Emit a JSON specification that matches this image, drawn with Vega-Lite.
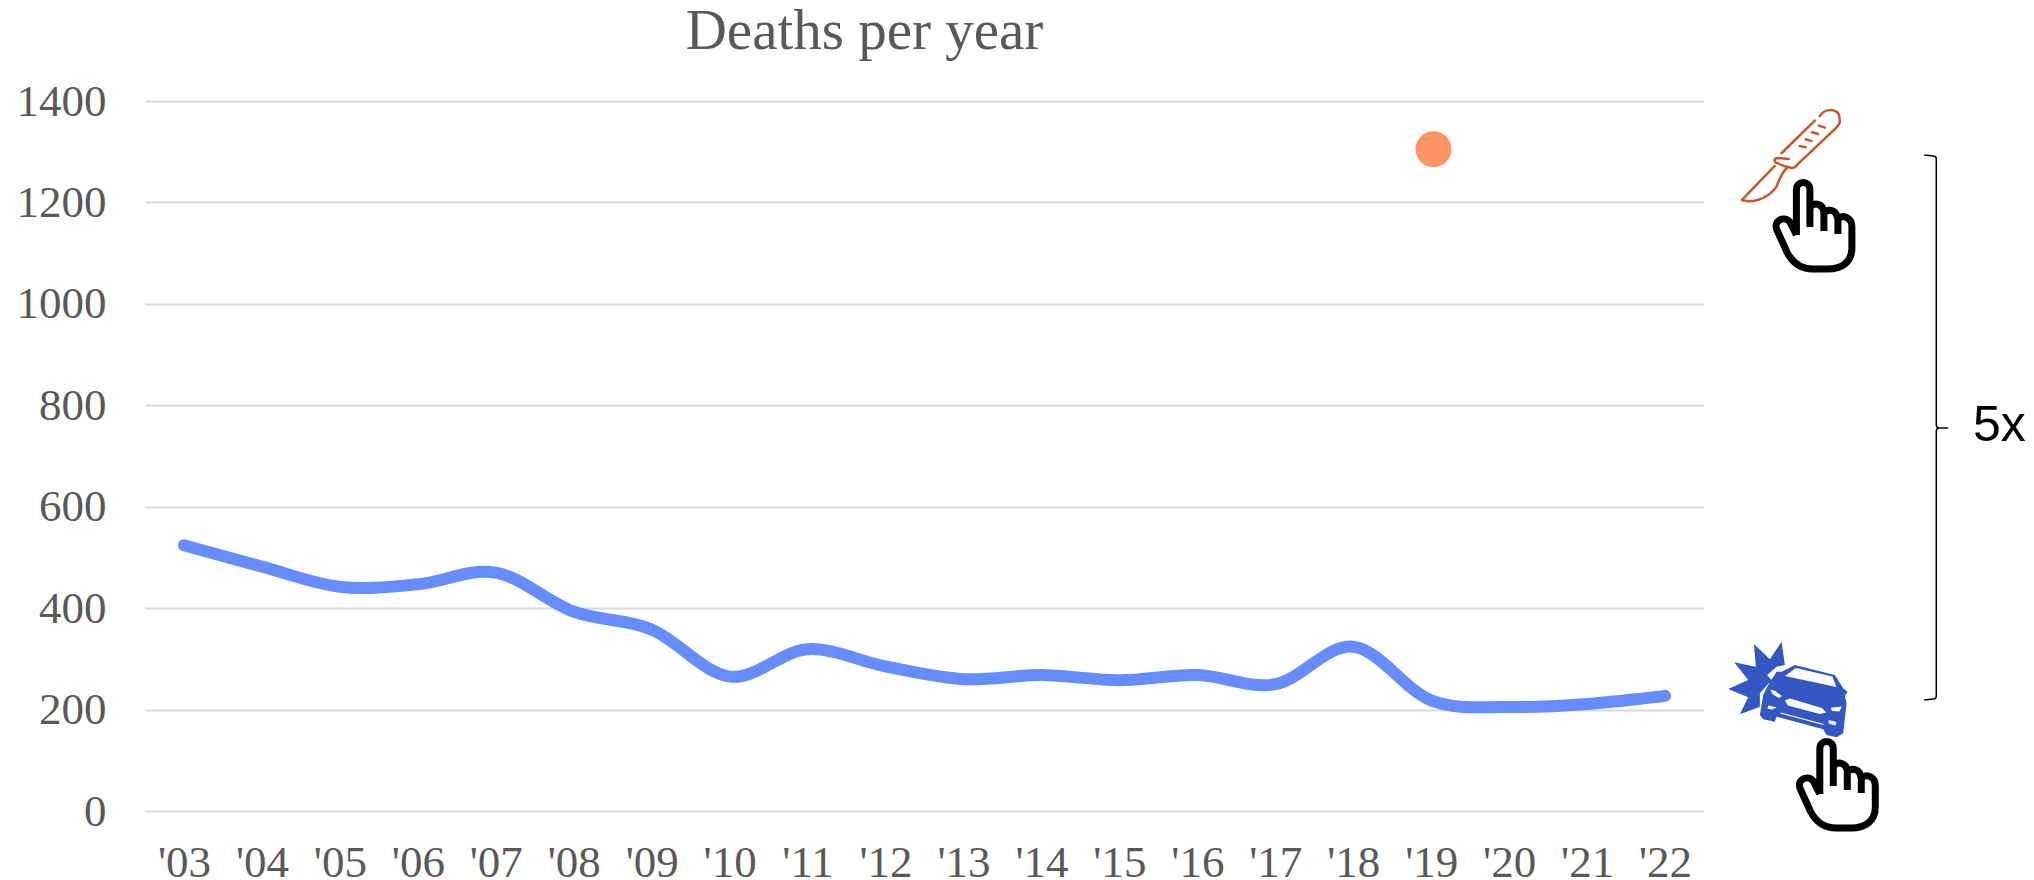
{
"$schema":"https://vega.github.io/schema/vega-lite/v6.json",
"width":1559,"height":710,
"autosize":{"type":"none"},
"padding":{"left":145,"top":101,"right":330,"bottom":69},
"background":"white",
"title":{"text":"Deaths per year","font":"Liberation Serif","fontSize":57,"fontWeight":"normal","color":"#595959","anchor":"middle","dx":-60,"offset":18},
"config":{"view":{"stroke":null}},
"datasets":{
"road":[{"year":2003,"deaths":524},{"year":2004,"deaths":482},{"year":2005,"deaths":442},{"year":2006,"deaths":447},{"year":2007,"deaths":470},{"year":2008,"deaths":393},{"year":2009,"deaths":358},{"year":2010,"deaths":265},{"year":2011,"deaths":319},{"year":2012,"deaths":285},{"year":2013,"deaths":260},{"year":2014,"deaths":268},{"year":2015,"deaths":258},{"year":2016,"deaths":268},{"year":2017,"deaths":250},{"year":2018,"deaths":324},{"year":2019,"deaths":218},{"year":2020,"deaths":205},{"year":2021,"deaths":211},{"year":2022,"deaths":227}],
"surgery":[{"year":2019.03,"deaths":1305}],
"notes":[{"item":"scalpel","year":2023.6,"deaths":1293.6},{"item":"hand","year":2023.91,"deaths":1153.6},{"item":"car","year":2023.73,"deaths":238.6},{"item":"hand","year":2024.21,"deaths":51.3},{"item":"bracket","year":2025.48,"deaths":755.3},{"item":"label","year":2025.95,"deaths":760,"text":"5x"}]
},
"encoding":{
"x":{"field":"year","type":"quantitative","scale":{"domain":[2002.5,2022.5],"nice":false,"zero":false},"axis":{"title":null,"values":[2003,2004,2005,2006,2007,2008,2009,2010,2011,2012,2013,2014,2015,2016,2017,2018,2019,2020,2021,2022],"labelExpr":"\"'\" + substring(toString(datum.value), 2)","grid":false,"domain":false,"ticks":false,"labelFont":"Liberation Serif","labelFontSize":45,"labelColor":"#595959","labelBaseline":"alphabetic","labelPadding":65,"labelOverlap":false,"labelFlush":false}},
"y":{"field":"deaths","type":"quantitative","scale":{"domain":[0,1400],"nice":false},"axis":{"title":null,"values":[0,200,400,600,800,1000,1200,1400],"format":"d","grid":true,"gridColor":"#d9d9d9","gridWidth":2,"domain":false,"ticks":false,"labelFont":"Liberation Serif","labelFontSize":45,"labelColor":"#595959","labelPadding":39}}
},
"layer":[
{"data":{"name":"road"},"mark":{"type":"line","interpolate":"cardinal","color":"#668cff","strokeWidth":12,"strokeCap":"round","strokeJoin":"round","clip":false}},
{"data":{"name":"surgery"},"mark":{"type":"point","shape":"circle","filled":true,"color":"#ff9466","size":1300,"opacity":1,"clip":false}},
{"data":{"name":"notes"},"transform":[{"filter":"datum.item==='scalpel'"}],"mark":{"type":"point","filled":false,"size":4,"opacity":1,"color":"#c55a2e","strokeWidth":2.5,"strokeCap":"round","strokeJoin":"round","clip":false,"shape":"M30,-39 C35,-46.7 50,-48.3 50,-35 C50.7,-31.7 48.3,-29 46,-26.7 L8.3,9 M25,-34.3 L-8.3,-1.7 M-1,4 L-12,3 C-16,3 -16,7 -13,8 L-6,11 L2,13 C5,13 7,11 9,8 M-15,11 L-47.7,45 C-36.7,49 -21.7,43.3 -13.3,31.7 C-10,23.3 -8.3,18.3 -3.3,13.3 M10,-9 L16,-7.7 M16,-15.7 L21.7,-14 M22.3,-22.7 L28.3,-21 M29.3,-29.3 L35,-27.3"}},
{"data":{"name":"notes"},"transform":[{"filter":"datum.item==='hand'"}],"mark":{"type":"point","filled":false,"size":4,"opacity":1,"color":"#000000","strokeWidth":7,"strokeCap":"butt","strokeJoin":"round","clip":false,"shape":"M-17.5,9 L-17.5,-36 C-17.5,-46 -4,-46 -4,-36 L-4,1 M-4,-19 C2,-25 9,-21 10,-14 L10,5 M10,-13 C15,-18 23,-16 24,-6 L24,8 M24,-7 C30,-12 38,-8 38,1 L38,22 C38,36 28,43 14,43 L-1,43 C-14,43 -22,36 -27,26 L-37,4 C-41,-5 -30,-11 -24,-4 L-17.5,9"}},
{"data":{"name":"notes"},"transform":[{"filter":"datum.item==='car'"}],"mark":{"type":"point","filled":true,"size":4,"opacity":1,"color":"#3358c4","clip":false,"shape":"M-46,-46 L-30,-30.7 L-18.3,-48.3 L-15,-25 L-23.3,-23.3 L-32.7,-15 L-28.3,-10 L-40,3.3 L-40,16.7 L-60,24.3 L-51.7,7.3 L-71.7,-1 L-51.7,-10 L-65.7,-27.7 L-44,-23.3 Z M-5,-25 L35,-15 L43.3,-1.7 L47.7,1.7 L45,6 L46.7,13.3 L43.3,43.3 L36.7,47.3 L26.7,45 L23.3,39.3 L-23.3,26.7 L-25,31.7 L-36.7,29.3 L-40,25 L-36.7,5 L-30,-8.3 L-26.7,-12.7 L-23.3,-18.3 L-18.3,-18.3 L-8.3,-23.3 Z"}},
{"data":{"name":"notes"},"transform":[{"filter":"datum.item==='car'"}],"mark":{"type":"point","filled":true,"size":4,"opacity":1,"color":"#ffffff","clip":false,"shape":"M-4,-22 L32.5,-13.5 L36.5,-3 L-15,-14 Z M-29.5,-0.5 L-25,0.7 L-18,6 L-21,8 L-27.5,4 Z M31,17.8 L42,16.5 L39.5,21.5 L32,21 Z M-15,10.5 L-10,8.5 L22,18 L26.5,22.5 L20,24 L-12,15.5 Z M-31.5,15.5 L-23,17.5 L-28.3,19.5 L-32.5,18.5 Z M28.5,30 L36.5,32 L35.5,35.5 L29,33.5 Z M-19,22.5 L24,34 L23.5,35 L-19.5,23.5 Z"}},
{"data":{"name":"notes"},"transform":[{"filter":"datum.item==='bracket'"}],"mark":{"type":"point","filled":false,"size":4,"opacity":1,"color":"#000000","strokeWidth":1.5,"clip":false,"shape":"M-12,-273 L-3,-272 Q0,-272 0,-269 L0,-3 Q0,0 3,0 L12,0 M3,0 Q0,0 0,3 L0,268 Q0,271 -3,271 L-12,272"}},
{"data":{"name":"notes"},"transform":[{"filter":"datum.item==='label'"}],"mark":{"type":"text","align":"left","baseline":"middle","font":"Liberation Sans","fontSize":50,"color":"#000000","clip":false},"encoding":{"text":{"field":"text"}}}
]
}
